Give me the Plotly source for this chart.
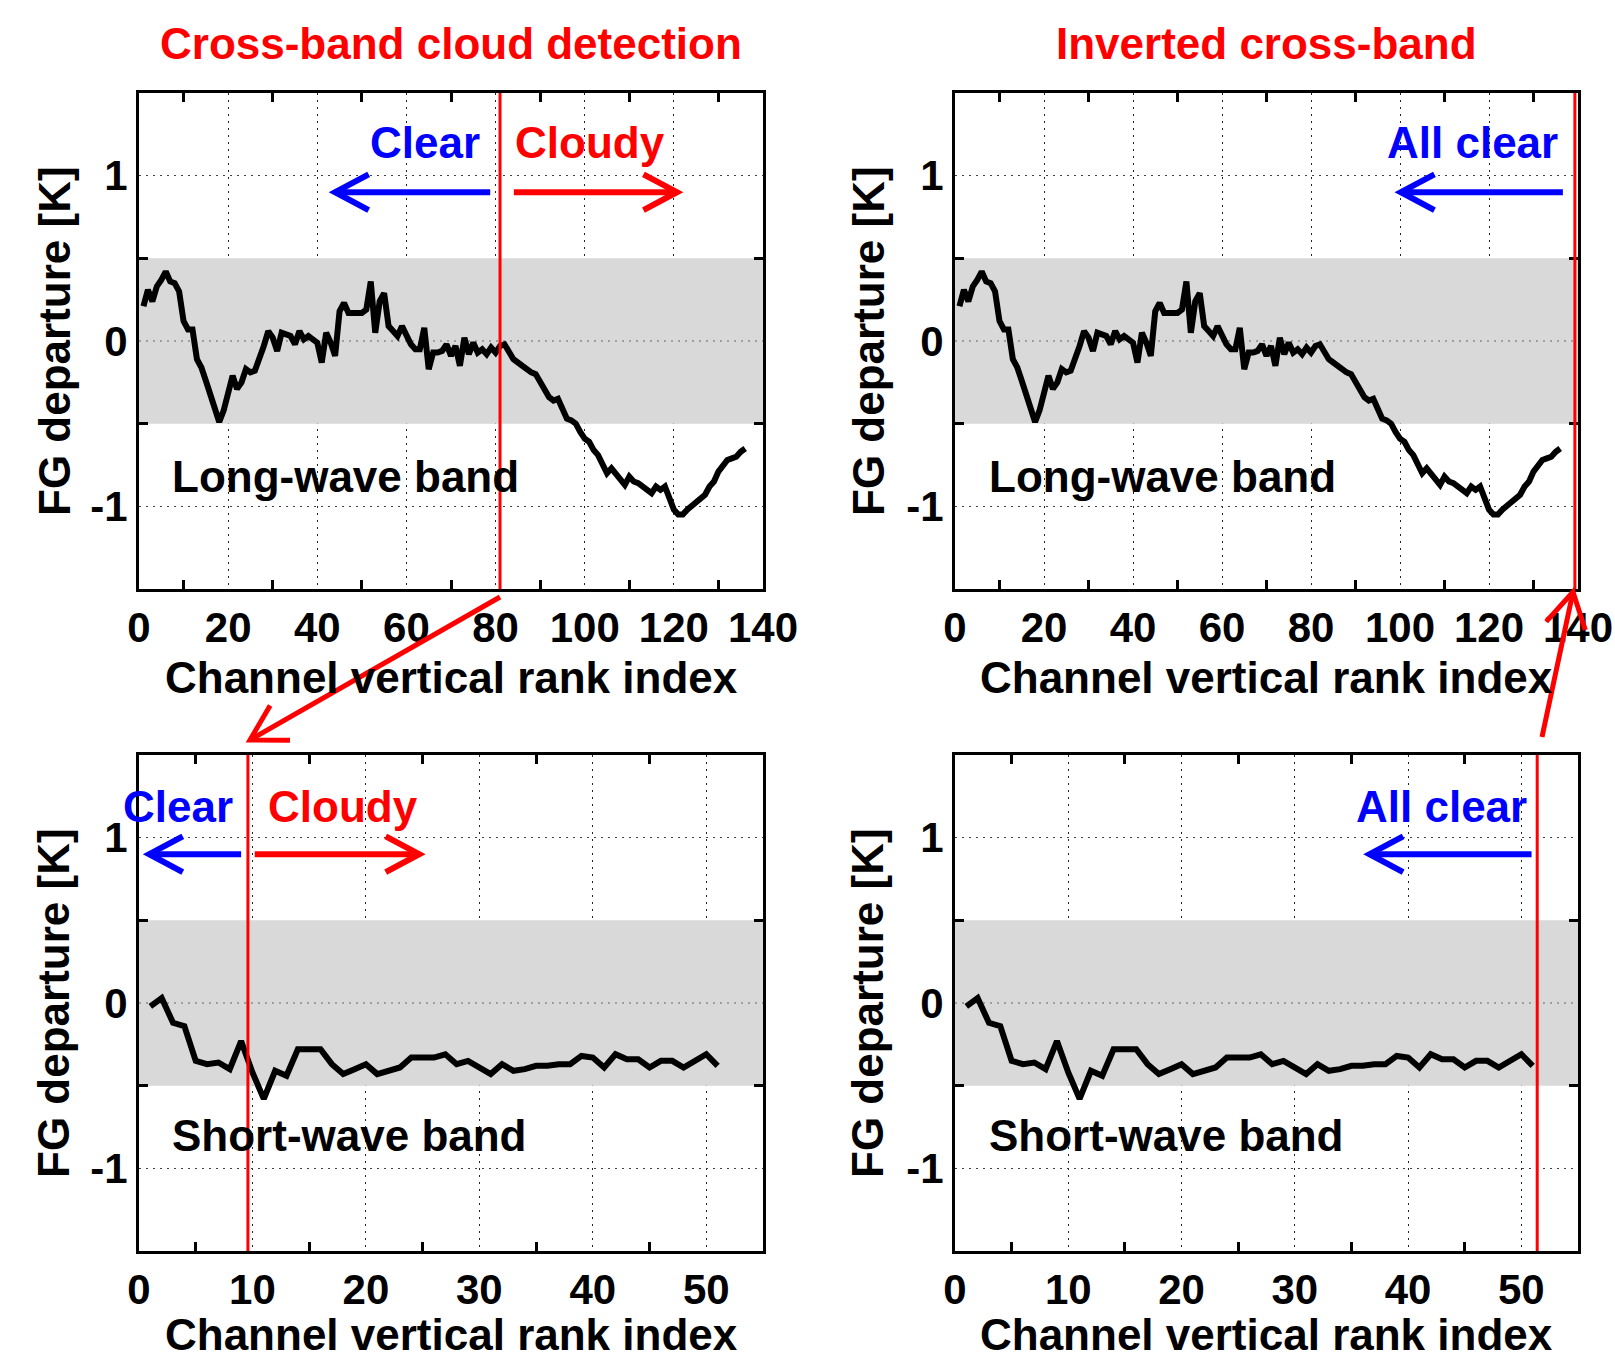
import math
import plotly.graph_objects as go

W, H = 1615, 1362

# ---------------- data ----------------
lw_x = list(range(1, 137))
lw_y = [0.21, 0.31, 0.24, 0.33, 0.37, 0.42, 0.36, 0.35, 0.30, 0.12,
        0.07, 0.07, -0.11, -0.16, -0.24, -0.32, -0.41, -0.49, -0.42, -0.30,
        -0.21, -0.29, -0.25, -0.17, -0.19, -0.18, -0.11, -0.03, 0.06, 0.02,
        -0.06, 0.05, 0.04, 0.03, -0.02, 0.06, 0.01, 0.03, 0.01, -0.01,
        -0.13, 0.05, -0.01, -0.09, 0.18, 0.23, 0.17, 0.17, 0.17, 0.17,
        0.19, 0.36, 0.05, 0.24, 0.29, 0.09, 0.06, 0.03, 0.09, 0.03,
        -0.02, -0.05, -0.05, 0.08, -0.17, -0.07, -0.07, -0.06, -0.02, -0.09,
        -0.03, -0.15, 0.02, -0.08, -0.01, -0.07, -0.05, -0.08, -0.04, -0.07,
        -0.03, -0.02, -0.06, -0.11, -0.13, -0.15, -0.18, -0.19, -0.20, -0.25,
        -0.29, -0.34, -0.36, -0.35, -0.41, -0.47, -0.48, -0.50, -0.55, -0.59,
        -0.61, -0.66, -0.69, -0.75, -0.80, -0.77, -0.80, -0.83, -0.87, -0.82,
        -0.85, -0.86, -0.88, -0.89, -0.92, -0.88, -0.90, -0.88, -0.96, -1.02,
        -1.05, -1.05, -1.02, -1.00, -0.97, -0.95, -0.93, -0.88, -0.85, -0.79,
        -0.75, -0.72, -0.71, -0.70, -0.67, -0.65]

sw_x = list(range(1, 52))
sw_y = [-0.02, 0.03, -0.12, -0.14, -0.35, -0.37, -0.36, -0.40, -0.23, -0.42,
        -0.58, -0.41, -0.44, -0.28, -0.28, -0.28, -0.37, -0.43, -0.40, -0.37,
        -0.43, -0.41, -0.39, -0.33, -0.33, -0.33, -0.31, -0.37, -0.35, -0.39,
        -0.43, -0.37, -0.41, -0.40, -0.38, -0.38, -0.37, -0.37, -0.32, -0.33,
        -0.39, -0.31, -0.34, -0.34, -0.39, -0.35, -0.35, -0.39, -0.35, -0.31,
        -0.38]

lw_range = [0, 140]
sw_range = [0, 55]
y_range = [-1.5, 1.5]
lw_ticks = [0, 20, 40, 60, 80, 100, 120, 140]
lw_minor = [10, 30, 50, 70, 90, 110, 130]
sw_ticks = [0, 10, 20, 30, 40, 50]
sw_minor = [5, 15, 25, 35, 45]
y_ticks = [-1, 0, 1]
y_ticktext = ["-1", "0", "1"]
y_minor = [-0.5, 0.5]
band = [-0.5, 0.5]

lw_split = 81
sw_split = 9.6
lw_inv_split = 139.3
sw_inv_split = 51.4

col_titles = ["Cross-band cloud detection", "Inverted cross-band"]
x_title = "Channel vertical rank index"
y_title = "FG departure [K]"
band_labels = ["Long-wave band", "Short-wave band"]

# ---------------- style ----------------
FONT = "Liberation Sans, Arial, sans-serif"
FS = 44
TFS = 42
BLUE = "#0000ff"
RED = "#ff0000"

cols_px = [(139, 763), (955, 1578)]
rows_px = [(93, 589), (755, 1251)]

panels = {
    1: dict(col=0, row=0, xr=lw_range, ticks=lw_ticks, minor=lw_minor),
    2: dict(col=1, row=0, xr=lw_range, ticks=lw_ticks, minor=lw_minor),
    3: dict(col=0, row=1, xr=sw_range, ticks=sw_ticks, minor=sw_minor),
    4: dict(col=1, row=1, xr=sw_range, ticks=sw_ticks, minor=sw_minor),
}


def d2px(pid, x, y):
    p = panels[pid]
    x0, x1 = cols_px[p["col"]]
    y0, y1 = rows_px[p["row"]]
    r0, r1 = p["xr"]
    px = x0 + (x - r0) / (r1 - r0) * (x1 - x0)
    py = y1 - (y - y_range[0]) / (y_range[1] - y_range[0]) * (y1 - y0)
    return px, py


def pp(px, py):
    return px / W, 1 - py / H


def arrow(p_from, p_to, color, width=6, head=38, ang=28):
    fx, fy = p_from
    tx, ty = p_to
    dx, dy = tx - fx, ty - fy
    L = math.hypot(dx, dy)
    bx, by = -dx / L, -dy / L
    arms = []
    for s in (1, -1):
        a = math.radians(ang * s)
        rx = bx * math.cos(a) - by * math.sin(a)
        ry = bx * math.sin(a) + by * math.cos(a)
        arms.append((tx + rx * head, ty + ry * head))

    def P(pt):
        x, y = pp(*pt)
        return f"{x:.5f},{y:.5f}"
    shaft = dict(type="path", xref="paper", yref="paper",
                 path=f"M {P(p_from)} L {P(p_to)}",
                 line=dict(color=color, width=width), layer="above")
    hd = dict(type="path", xref="paper", yref="paper",
              path=f"M {P(arms[0])} L {P(p_to)} L {P(arms[1])}",
              line=dict(color=color, width=width), layer="above")
    return [shaft, hd]


fig = go.Figure()

series = {1: (lw_x, lw_y), 2: (lw_x, lw_y), 3: (sw_x, sw_y), 4: (sw_x, sw_y)}
for pid, (xs, ys) in series.items():
    sfx = "" if pid == 1 else str(pid)
    xr = panels[pid]["xr"]
    # grey tolerance band (drawn as a trace so it hides the grid inside it)
    fig.add_trace(go.Scatter(x=[xr[0], xr[1], xr[1], xr[0], xr[0]],
                             y=[band[0], band[0], band[1], band[1], band[0]],
                             mode="lines", fill="toself", fillcolor="#d9d9d9",
                             line=dict(width=0, color="#d9d9d9"),
                             xaxis="x" + sfx, yaxis="y" + sfx,
                             showlegend=False, hoverinfo="skip"))
    fig.add_trace(go.Scatter(x=[xr[0], xr[1]], y=[0, 0], mode="lines",
                             line=dict(color="#8a8a8a", width=1.3, dash="2px,5px"),
                             xaxis="x" + sfx, yaxis="y" + sfx,
                             showlegend=False, hoverinfo="skip"))
    fig.add_trace(go.Scatter(x=xs, y=ys, mode="lines",
                             line=dict(color="black", width=6),
                             xaxis="x" + sfx, yaxis="y" + sfx,
                             showlegend=False, hoverinfo="skip"))

tickfont = dict(family=FONT, size=TFS, color="black", weight="bold")
layout = dict(width=W, height=H, margin=dict(l=0, r=0, t=0, b=0, autoexpand=False),
              template="none",
              plot_bgcolor="white", paper_bgcolor="white", showlegend=False)

for pid, p in panels.items():
    sfx = "" if pid == 1 else str(pid)
    x0, x1 = cols_px[p["col"]]
    y0, y1 = rows_px[p["row"]]
    layout["xaxis" + sfx] = dict(
        domain=[x0 / W, x1 / W], range=p["xr"], anchor="y" + sfx,
        tickmode="array", tickvals=p["ticks"], ticks="",
        showgrid=True, gridcolor="#222", griddash="2px,5px", gridwidth=1.3,
        showline=True, linecolor="black", linewidth=3, mirror="allticks",
        minor=dict(tickmode="array", tickvals=p["minor"], ticks="inside",
                   ticklen=9, tickwidth=2.5, tickcolor="black", showgrid=False),
        zeroline=False, tickfont=tickfont, fixedrange=True, automargin=False,
        ticklabeloverflow="allow", ticklabelstandoff=0)
    layout["yaxis" + sfx] = dict(
        domain=[1 - y1 / H, 1 - y0 / H], range=y_range, anchor="x" + sfx,
        tickmode="array", tickvals=y_ticks, ticktext=y_ticktext, ticks="",
        showgrid=True, gridcolor="#444", griddash="2px,5px", gridwidth=1.3,
        showline=True, linecolor="black", linewidth=3, mirror="allticks",
        minor=dict(tickmode="array", tickvals=y_minor, ticks="inside",
                   ticklen=9, tickwidth=2.5, tickcolor="black", showgrid=False),
        zeroline=False, tickfont=tickfont, fixedrange=True, automargin=False,
        ticklabeloverflow="allow")

fig.update_layout(**layout)

shapes = []
annotations = []

splits = {1: lw_split, 2: lw_inv_split, 3: sw_split, 4: sw_inv_split}
for pid, sx in splits.items():
    sfx = "" if pid == 1 else str(pid)
    shapes.append(dict(type="line", xref="x" + sfx, yref="y" + sfx + " domain",
                       x0=sx, x1=sx, y0=0, y1=1,
                       line=dict(color=RED, width=3), layer="above"))


def txt(pid, x, y, text, color, xanchor):
    px, py = d2px(pid, x, y)
    X, Y = pp(px, py)
    annotations.append(dict(x=X, y=Y, xref="paper", yref="paper", text=text,
                            showarrow=False, xanchor=xanchor, yanchor="middle",
                            font=dict(family=FONT, size=FS, color=color, weight="bold")))


# panel 1
txt(1, 77, 1.2, "Clear", BLUE, "right")
txt(1, 84, 1.2, "Cloudy", RED, "left")
txt(1, 7, -0.82, band_labels[0], "black", "left")
shapes += arrow(d2px(1, 78.8, 0.9), d2px(1, 44.0, 0.9), BLUE)
shapes += arrow(d2px(1, 84.1, 0.9), d2px(1, 120.7, 0.9), RED)
# panel 2
txt(2, 136, 1.2, "All clear", BLUE, "right")
txt(2, 7.2, -0.82, band_labels[0], "black", "left")
shapes += arrow(d2px(2, 136.6, 0.9), d2px(2, 100.2, 0.9), BLUE)
# panel 3
txt(3, 8.5, 1.19, "Clear", BLUE, "right")
txt(3, 11.2, 1.19, "Cloudy", RED, "left")
txt(3, 2.7, -0.80, band_labels[1], "black", "left")
shapes += arrow(d2px(3, 9.0, 0.9), d2px(3, 0.9, 0.9), BLUE)
shapes += arrow(d2px(3, 10.2, 0.9), d2px(3, 24.7, 0.9), RED)
# panel 4
txt(4, 50.7, 1.19, "All clear", BLUE, "right")
txt(4, 2.8, -0.80, band_labels[1], "black", "left")
shapes += arrow(d2px(4, 50.9, 0.9), d2px(4, 36.6, 0.9), BLUE)

# connecting arrows between panels (figure pixels)
shapes += arrow((500, 597), (250, 740), RED, width=5, head=40, ang=30)
shapes += arrow((1542, 737), (1573, 592), RED, width=5, head=40, ang=30)

# titles
for ci, t in enumerate(col_titles):
    cx = (cols_px[ci][0] + cols_px[ci][1]) / 2 / W
    annotations.append(dict(x=cx, y=1 - 43 / H, xref="paper", yref="paper", text=t,
                            showarrow=False, xanchor="center", yanchor="middle",
                            font=dict(family=FONT, size=FS, color=RED, weight="bold")))

# axis titles
xt_y = [677, 1334]
yt_x = [54, 868]
for ci in range(2):
    cx = (cols_px[ci][0] + cols_px[ci][1]) / 2 / W
    for ri in range(2):
        annotations.append(dict(x=cx, y=1 - xt_y[ri] / H, xref="paper", yref="paper",
                                text=x_title, showarrow=False, xanchor="center",
                                yanchor="middle",
                                font=dict(family=FONT, size=FS, color="black", weight="bold")))
        cy = 1 - (rows_px[ri][0] + rows_px[ri][1]) / 2 / H
        annotations.append(dict(x=yt_x[ci] / W, y=cy, xref="paper", yref="paper",
                                text=y_title, showarrow=False, textangle=-90,
                                xanchor="center", yanchor="middle",
                                font=dict(family=FONT, size=FS, color="black", weight="bold")))

fig.update_layout(shapes=shapes, annotations=annotations)
fig.write_html("out.html")
